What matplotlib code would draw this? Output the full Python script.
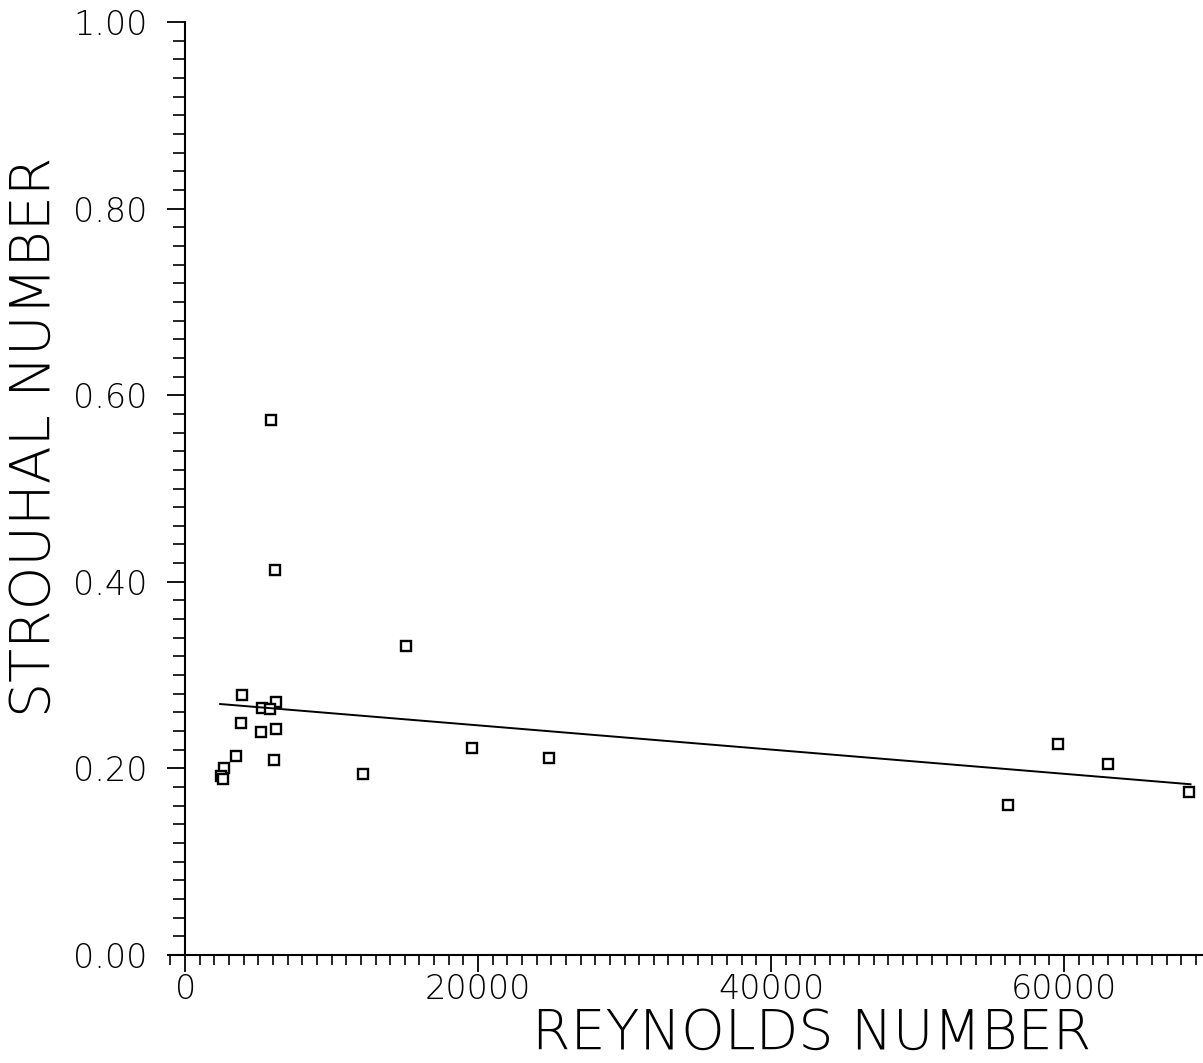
import numpy as np
import matplotlib
matplotlib.use("Agg")
import matplotlib.pyplot as plt
from matplotlib.ticker import MultipleLocator

# 数据
reynolds = [5870, 6150, 15100, 3890, 6215, 5260, 5800, 3820, 5190, 6215,
            3480, 6080, 2660, 2460, 2600, 12160, 19600, 24860, 56150, 59560,
            63040, 68570]
strouhal = [0.573, 0.413, 0.331, 0.279, 0.271, 0.265, 0.264, 0.249, 0.239, 0.242,
            0.213, 0.209, 0.200, 0.192, 0.189, 0.194, 0.222, 0.211, 0.161, 0.226,
            0.205, 0.175]

# 拟合直线的两个端点
fit_re = [2390, 68640]
fit_st = [0.269, 0.183]

x_ticks = [0, 20000, 40000, 60000]
y_ticks = [0.0, 0.2, 0.4, 0.6, 0.8, 1.0]

plt.rcParams['font.family'] = ['DejaVu Sans']


def draw_chart():
    fig = plt.figure(figsize=(12.03, 10.63), dpi=100)
    ax = fig.add_axes([0.1405, 0.1016, 0.8596, 0.8777])

    ax.plot(reynolds, strouhal, linestyle='none', marker='s', markersize=7,
            markerfacecolor='white', markeredgecolor='black', markeredgewidth=1.7)
    ax.plot(fit_re, fit_st, color='black', linewidth=1.4)

    ax.set_xlim(-1100, 69500)
    ax.set_ylim(0, 1.0)

    # 坐标轴样式
    ax.spines['top'].set_visible(False)
    ax.spines['right'].set_visible(False)
    ax.spines['left'].set_position(('data', 0))
    ax.spines['left'].set_linewidth(1.5)
    ax.spines['bottom'].set_linewidth(1.5)

    ax.set_xticks(x_ticks)
    ax.set_xticklabels([str(v) for v in x_ticks], fontweight='light')
    ax.xaxis.set_minor_locator(MultipleLocator(1000))
    ax.set_yticks(y_ticks)
    ax.set_yticklabels(['%.2f' % v for v in y_ticks], fontweight='light')
    ax.yaxis.set_minor_locator(MultipleLocator(0.02))

    ax.tick_params(axis='x', which='major', length=12, width=1.3, labelsize=24, pad=1)
    ax.tick_params(axis='x', which='minor', length=7, width=1.2)
    ax.tick_params(axis='y', which='major', length=13, width=1.3, labelsize=24, pad=14)
    ax.tick_params(axis='y', which='minor', length=8.5, width=1.2)

    fig.text(0.675, 0.002, 'REYNOLDS NUMBER', fontsize=40, ha='center', va='bottom',
             fontweight='light')
    fig.text(0.029, 0.589, 'STROUHAL NUMBER', fontsize=40, rotation=90,
             ha='center', va='center', fontweight='light')

    fig.savefig('out.png', dpi=100)


if __name__ == '__main__':
    draw_chart()
